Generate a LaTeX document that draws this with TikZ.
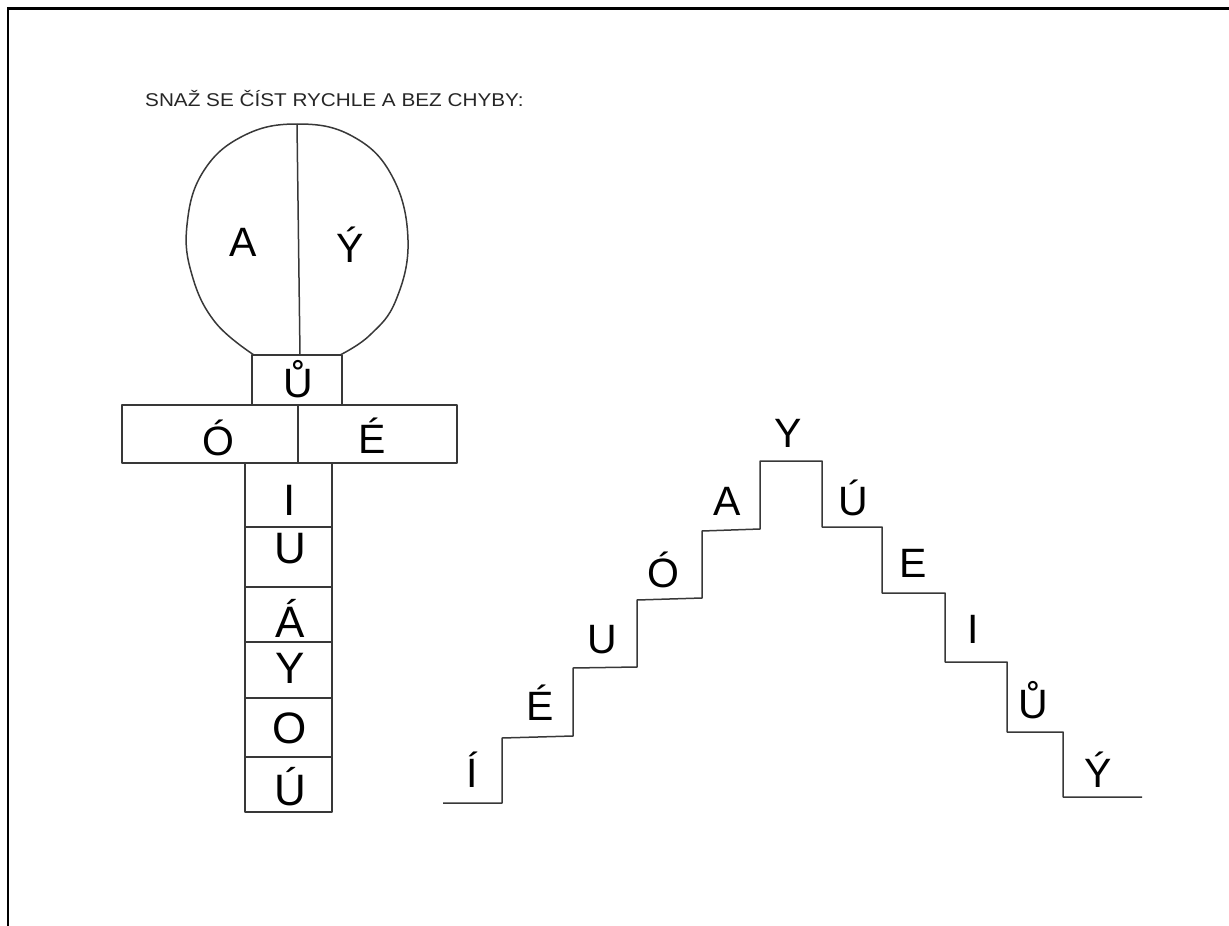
\documentclass[tikz,border=0pt]{standalone}
\usepackage{fontspec}
\setmainfont{Liberation Sans}
\begin{document}
\begin{tikzpicture}[x=1pt,y=-1pt,
  ln/.style={line width=1.5pt, draw=black!78, line join=round},
  let/.style={font=\fontsize{41}{41}\selectfont, inner sep=0pt, anchor=base, text=black},
  bigl/.style={font=\fontsize{44}{44}\selectfont, inner sep=0pt, anchor=base, text=black}]
\useasboundingbox (0,0) rectangle (1229,926);
% frame
\draw[line width=2.6pt] (8,926) -- (8,8.5) -- (1229,8.5);
% title
\node[anchor=base west, inner sep=0pt, font=\fontsize{18.5}{18.5}\selectfont, text=black!85] (title) at (145,106) {\scalebox{1.12}[1]{SNAŽ SE ČÍST RYCHLE A BEZ CHYBY:}};
% balloon head
\draw[ln] plot[smooth, tension=0.7] coordinates {(254,355) (215,322) (192,275) (187,225) (203,172) (243,136) (297,124) (352,136) (392,176) (408,240) (396,300) (370,335) (340,355)};
\draw[ln] (297,124) -- (300,355);
\node[let] (hA) at (243,256) {A};
\node[let] (hY) at (350,262) {Ý};
% neck
\draw[ln] (252,355) rectangle (342,405);
\node[let] (neck) at (298,397) {Ů};
% crossbar
\draw[ln] (122,405) rectangle (457,463);
\draw[ln] (298,405) -- (298,463);
\node[let] (cO) at (218,455) {Ó};
\node[let] (cE) at (372,453) {É};
% column
\draw[ln] (245,463) rectangle (332,812);
\foreach \yy in {527,587,642,698,757} \draw[ln] (245,\yy) -- (332,\yy);
\node[bigl] (r1) at (290,515) {I};
\node[bigl] (r2) at (290,563) {U};
\node[bigl] (r3) at (290,637) {Á};
\node[bigl] (r4) at (290,683) {Y};
\node[bigl] (r5) at (290,743) {O};
\node[bigl] (r6) at (290,805) {Ú};
% stairs
\draw[ln] (443,803) -- (502,803) -- (502,738) -- (573,736) -- (573,668) -- (637,667) -- (637,600) -- (702,598) -- (702,531) -- (760,529) -- (760,461) -- (822,461) -- (822,527) -- (882,527) -- (882,593) -- (945,593) -- (945,662) -- (1007,662) -- (1007,732) -- (1063,732) -- (1063,797) -- (1142,797);
\node[let] (s1) at (472,787) {Í};
\node[let] (s2) at (540,720) {É};
\node[let] (s3) at (602,653) {U};
\node[let] (s4) at (663,587) {Ó};
\node[let] (s5) at (727,515) {A};
\node[let] (s6) at (788,447) {Y};
\node[let] (s7) at (853,515) {Ú};
\node[let] (s8) at (913,577) {E};
\node[let] (s9) at (973,643) {I};
\node[let] (s10) at (1033,718) {Ů};
\node[let] (s11) at (1098,787) {Ý};
\end{tikzpicture}
\end{document}
